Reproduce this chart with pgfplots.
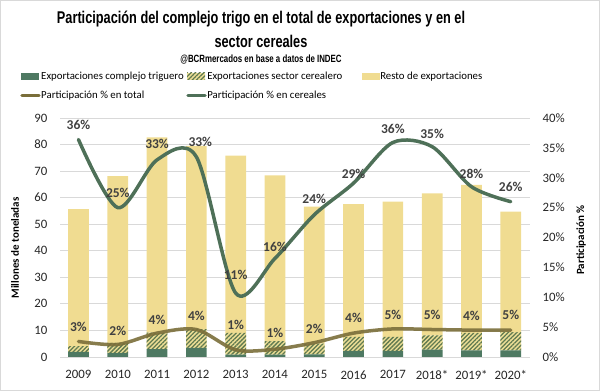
\documentclass[border=0pt]{standalone}
\usepackage{fontspec}
\setmainfont{Carlito}
\newfontfamily\titlefont[FakeStretch=0.75]{Liberation Sans}
\usepackage{pgfplots}
\pgfplotsset{compat=1.18}
\usetikzlibrary{patterns.meta}
\definecolor{trig}{RGB}{78,121,98}
\definecolor{yel}{RGB}{240,220,145}
\definecolor{hatchbg}{RGB}{236,222,150}
\definecolor{hatchfg}{RGB}{96,122,80}
\definecolor{cerl}{RGB}{78,112,88}
\definecolor{totl}{RGB}{122,110,58}
\definecolor{gridc}{RGB}{217,217,217}
\definecolor{lab}{RGB}{64,64,64}
\begin{document}
\begin{tikzpicture}
\useasboundingbox (0pt,0pt) rectangle (600pt,391pt);
\draw[gridc, line width=1pt] (0.5pt,0.5pt) rectangle (599.5pt,390.5pt);
\node[font=\titlefont\bfseries\fontsize{17}{24}\selectfont, align=center] at (261pt,362pt) {Participación del complejo trigo en el total de exportaciones y en el\\sector cereales};
\node[font=\titlefont\bfseries\fontsize{10.5}{12}\selectfont] at (261pt,331pt) {@BCRmercados en base a datos de INDEC};

\begin{axis}[at={(60pt,34pt)}, anchor=south west, scale only axis,
  width=470pt, height=239pt,
  ybar stacked, bar width=20.7pt,
  xmin=-0.47, xmax=11.49, ymin=0, ymax=90,
  xtick={0,...,11},
  xticklabels={2009,2010,2011,2012,2013,2014,2015,2016,2017,2018*,2019*,2020*},
  ytick={0,10,...,90},
  ymajorgrids, grid style={gridc, line width=0.9pt},
  axis line style={draw=none}, major tick length=0pt,
  tick label style={font=\fontsize{12.8}{15}\selectfont, text=black!85},
  yticklabel style={xshift=-9pt},
  xticklabel style={yshift=-10pt},
  /pgf/number format/assume math mode=true,
  ylabel={Millones de toneladas},
  ylabel style={font=\bfseries\fontsize{11}{13}\selectfont, at={(axis description cs:-0.0957,0.456)}, anchor=center},
  legend columns=3,
  legend cell align=left,
  legend style={at={(axis description cs:-0.085,1.197)}, anchor=north west, draw=none, fill=none,
    font=\fontsize{10.8}{13}\selectfont, inner sep=0pt, row sep=9.5pt, column sep=0pt,
    nodes={inner sep=0.5pt}},
  legend image code/.code={\fill[#1] (0pt,-3.5pt) rectangle (18pt,3.5pt);},
]
\addplot[fill=trig, draw=none] coordinates {(0,1.9)(1,1.6)(2,3.0)(3,3.4)(4,0.9)(5,0.9)(6,1.0)(7,2.3)(8,2.3)(9,2.8)(10,2.5)(11,2.5)};
\addlegendentry{Exportaciones complejo triguero\rule{2pt}{0pt}}
\addplot[fill=hatchbg, draw=none, postaction={pattern={Lines[angle=45,distance=3pt,line width=1.3pt]}, pattern color=hatchfg}] coordinates {(0,2.2)(1,3.7)(2,6.2)(3,7.1)(4,8.2)(5,5.1)(6,4.0)(7,5.3)(8,5.3)(9,5.3)(10,6.6)(11,6.9)};
\addlegendentry{Exportaciones sector cerealero\rule{19pt}{0pt}}
\addplot[fill=yel, draw=none] coordinates {(0,51.6)(1,62.8)(2,73.5)(3,69.0)(4,66.7)(5,62.4)(6,51.6)(7,50.0)(8,50.9)(9,53.5)(10,55.7)(11,45.3)};
\addlegendentry{Resto de exportaciones}
\addlegendimage{legend image code/.code={\draw[totl, line width=3.5pt, line cap=round] (1pt,0pt) -- (18pt,0pt);}}
\addlegendentry{Participación \% en total}
\addlegendimage{legend image code/.code={\draw[cerl, line width=3.5pt, line cap=round] (1pt,0pt) -- (18pt,0pt);}}
\addlegendentry{Participación \% en cereales}
\end{axis}

\begin{axis}[at={(60pt,34pt)}, anchor=south west, scale only axis,
  width=470pt, height=239pt,
  xmin=-0.47, xmax=11.49, ymin=0, ymax=40,
  axis x line=none, axis y line*=right,
  axis line style={draw=none}, major tick length=0pt,
  ytick={0,5,...,40},
  yticklabel={\pgfmathprintnumber{\tick}\%},
  tick label style={font=\fontsize{12.8}{15}\selectfont, text=black!85},
  yticklabel style={xshift=9pt},
  /pgf/number format/assume math mode=true,
  ylabel={Participación \%},
  ylabel style={font=\bfseries\fontsize{11}{13}\selectfont, at={(axis description cs:1.1085,0.49)}, anchor=center},
]
\addplot[totl, line width=3.5pt, smooth, line cap=round, opacity=0.9] coordinates {(0,2.6)(1,2.1)(2,4.0)(3,4.6)(4,1.2)(5,1.3)(6,2.4)(7,4.0)(8,4.7)(9,4.6)(10,4.5)(11,4.5)};
\addplot[cerl, line width=3.5pt, smooth, line cap=round] coordinates {(0,36.4)(1,25.0)(2,33.0)(3,33.5)(4,10.7)(5,16.5)(6,23.8)(7,29.1)(8,35.9)(9,35.2)(10,28.5)(11,26.0)};
\addplot[draw=none, nodes near coords, point meta=explicit symbolic,
  every node near coord/.append style={anchor=center, font=\bfseries\fontsize{13.5}{16}\selectfont, text=lab}]
  coordinates {(0,38.8)[36\%] (1,27.5)[25\%] (2,35.6)[33\%] (3.1,36.0)[33\%] (4,13.8)[11\%] (5,18.5)[16\%] (6,26.4)[24\%] (7,30.6)[29\%] (8,38.2)[36\%] (9,37.3)[35\%] (10,30.6)[28\%] (11,28.4)[26\%]};
\addplot[draw=none, nodes near coords, point meta=explicit symbolic,
  every node near coord/.append style={anchor=center, font=\bfseries\fontsize{13.5}{16}\selectfont, text=lab}]
  coordinates {(0,5.0)[3\%] (1,4.45)[2\%] (2,6.2)[4\%] (3,6.9)[4\%] (4,5.35)[1\%] (5,3.95)[1\%] (6,4.7)[2\%] (7,6.5)[4\%] (8,7.0)[5\%] (9,7.0)[5\%] (10,6.9)[4\%] (11,7.0)[5\%]};
\end{axis}
\end{tikzpicture}
\end{document}
